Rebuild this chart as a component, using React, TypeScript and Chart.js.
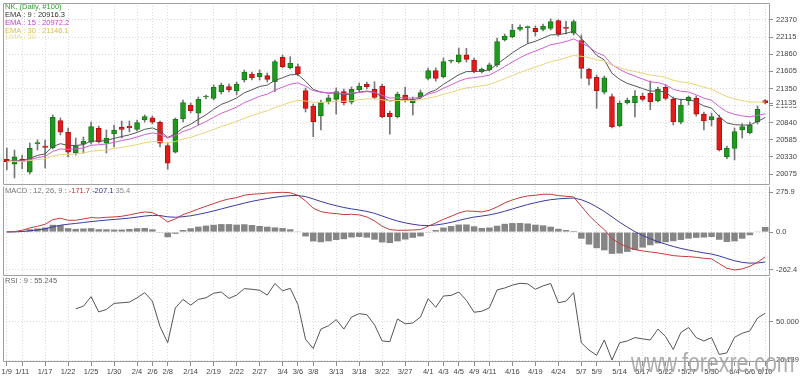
import React, { useEffect, useRef } from 'react';
import { Chart, registerables } from 'chart.js';

Chart.register(...registerables);

// ---------- data ----------
const dates = ['1/9','1/10','1/11','1/15','1/16','1/17','1/18','1/21','1/22','1/23','1/24','1/25','1/28','1/29','1/30','1/31','2/1','2/4','2/5','2/6','2/7','2/8','2/12','2/13','2/14','2/15','2/18','2/19','2/20','2/21','2/22','2/25','2/26','2/27','2/28','3/1','3/4','3/5','3/6','3/7','3/8','3/11','3/12','3/13','3/14','3/15','3/18','3/19','3/20','3/22','3/25','3/26','3/27','3/28','3/29','4/1','4/2','4/3','4/4','4/5','4/8','4/9','4/10','4/11','4/12','4/15','4/16','4/17','4/18','4/19','4/22','4/23','4/24','4/25','4/26','5/7','5/8','5/9','5/10','5/13','5/14','5/15','5/16','5/17','5/20','5/21','5/22','5/23','5/24','5/27','5/28','5/29','5/30','5/31','6/3','6/4','6/5','6/6','6/7','6/10'];

const shownDates = ['1/9','1/11','1/17','1/22','1/25','1/30','2/4','2/6','2/8','2/14','2/19','2/22','2/27','3/4','3/6','3/8','3/13','3/18','3/22','3/27','4/1','4/3','4/5','4/9','4/11','4/16','4/19','4/24','5/7','5/9','5/14','5/17','5/22','5/27','5/30','6/4','6/6','6/10'];

const opens = [20294,20220,20299,20101,20528,20493,20467,20870,20697,20393,20518,20548,20756,20533,20671,20771,20791,20741,20880,20914,20846,20497,20399,20895,21104,20980,21223,21203,21302,21376,21312,21476,21565,21525,21540,21451,21814,21659,21674,21317,21089,20940,21153,21188,21302,21144,21327,21412,21337,21387,20980,20929,21253,21138,21227,21501,21615,21525,21755,21749,21849,21774,21600,21625,21700,22072,22121,22231,22257,22246,22231,22246,22360,22251,22172,22062,21635,21516,21293,21227,20795,21138,21138,21238,21278,21168,21367,21188,20846,21168,21203,20967,20880,20914,20333,20458,20731,20691,20855,21168];
const highs = [20463,20433,20358,20537,20582,20582,20955,20910,20761,20612,20627,20850,20791,20731,20805,20865,20865,20880,20955,20940,20865,20537,20910,21178,21133,21223,21253,21402,21431,21416,21446,21625,21595,21625,21580,21774,21849,21823,21714,21357,21118,21178,21253,21357,21342,21372,21431,21446,21451,21416,21014,21297,21372,21223,21327,21655,21655,21804,21778,21953,21948,21804,21655,21729,22102,22161,22306,22296,22281,22281,22310,22385,22374,22355,22370,22147,21655,21550,21536,21267,21163,21208,21317,21282,21461,21372,21402,21223,21193,21238,21238,20999,20984,20955,20493,20761,20825,20850,21089,21185];
const lows = [20135,20016,20150,20075,20433,20165,20448,20657,20329,20358,20388,20522,20537,20388,20478,20612,20701,20716,20850,20820,20478,20145,20388,20850,20985,20806,21193,21178,21267,21297,21253,21446,21476,21476,21446,21302,21655,21640,21536,20999,20631,20731,21118,20969,21104,21118,21297,21342,21193,20910,20667,20910,21148,20954,21208,21476,21461,21506,21729,21729,21744,21580,21580,21610,21670,22057,22102,22206,22023,22132,22206,22221,22132,22161,22147,21501,21401,21054,21267,20761,20776,21118,20925,21163,21034,21148,21178,20806,20820,21104,20938,20731,20791,20418,20304,20284,20612,20671,20820,21118];
const closes = [20259,20333,20259,20458,20533,20473,20920,20697,20399,20497,20567,20780,20557,20607,20731,20741,20765,20840,20929,20846,20533,20235,20890,21138,21019,21189,21227,21367,21402,21327,21416,21595,21506,21576,21486,21749,21674,21725,21565,21054,20855,21138,21212,21302,21138,21337,21387,21376,21218,20929,20929,21267,21178,21188,21287,21615,21501,21749,21759,21849,21784,21600,21635,21700,22047,22132,22221,22261,22261,22196,22281,22345,22161,22246,22345,21650,21501,21312,21510,20780,21129,21178,21238,21188,21153,21342,21203,20855,21104,21218,20967,20865,20929,20433,20458,20706,20780,20806,21040,21135];

const ema9 = [20259,20274,20271,20308,20352,20376,20485,20527,20501,20500,20513,20567,20566,20574,20606,20633,20659,20695,20741,20762,20716,20619,20673,20765,20816,20890,20958,21039,21112,21156,21208,21285,21330,21379,21400,21470,21510,21554,21557,21457,21336,21296,21279,21284,21254,21270,21294,21311,21293,21220,21162,21183,21181,21183,21203,21285,21328,21412,21482,21555,21601,21601,21609,21627,21710,21795,21880,21956,22017,22053,22099,22148,22151,22170,22205,22094,21975,21843,21776,21576,21486,21425,21388,21348,21309,21315,21293,21205,21184,21191,21147,21090,21057,20932,20837,20810,20804,20806,20858,20916.3];
const ema15 = [20259,20268,20266,20290,20320,20339,20412,20448,20442,20449,20464,20503,20511,20522,20548,20572,20595,20627,20664,20686,20667,20613,20648,20709,20747,20803,20856,20920,20980,21023,21072,21138,21184,21233,21264,21325,21369,21413,21433,21385,21318,21296,21285,21287,21269,21278,21291,21302,21291,21247,21206,21214,21209,21206,21217,21266,21296,21352,21403,21458,21498,21512,21527,21548,21610,21676,21744,21808,21865,21907,21953,22002,22021,22050,22087,22032,21966,21884,21838,21705,21634,21577,21534,21491,21449,21436,21406,21337,21308,21297,21255,21206,21172,21080,21002,20965,20941,20928,20948,20972.2];
const ema30 = [20259,20263,20263,20275,20291,20303,20344,20366,20367,20376,20388,20414,20423,20434,20454,20472,20491,20513,20540,20560,20558,20537,20560,20597,20624,20659,20697,20740,20783,20819,20858,20905,20944,20984,21017,21065,21104,21144,21171,21163,21144,21144,21148,21159,21157,21169,21183,21194,21196,21180,21163,21171,21171,21172,21180,21208,21227,21261,21293,21328,21358,21373,21390,21409,21451,21494,21542,21588,21631,21667,21707,21749,21776,21807,21841,21829,21808,21776,21759,21697,21659,21628,21603,21576,21549,21536,21515,21472,21448,21433,21403,21369,21340,21282,21229,21194,21168,21150,21147,21146.1];

const macd = [1.2,3.5,12.7,28.9,40.4,54.3,86.6,95.9,82.0,82.0,91.2,100.5,98.2,102.8,105.1,109.7,119.0,130.5,139.8,135.1,109.7,70.5,91.2,121.3,139.8,160.5,179.0,197.5,216.0,229.8,239.1,255.3,262.2,265.7,270.3,273.6,275.9,272.6,255.3,216.0,165.2,142.1,132.8,128.2,121.3,123.6,119.0,105.1,77.4,40.4,17.3,12.7,12.7,15.0,17.3,40.4,63.5,88.9,109.7,132.8,146.7,144.4,139.8,151.3,174.4,202.1,222.9,239.1,250.6,255.3,262.2,262.2,253.0,248.3,243.7,179.0,116.7,63.5,17.3,-45.0,-79.7,-102.8,-121.3,-130.5,-137.4,-144.4,-153.6,-162.8,-167.5,-169.8,-174.4,-181.4,-186.0,-218.3,-250.7,-262.4,-255.3,-236.8,-209.1,-171.7];
const signal = [1.2,1.6,3.9,9.0,15.2,23.1,35.8,47.8,54.7,60.1,66.3,73.2,78.1,83.2,87.5,91.9,97.3,104.0,111.1,116.0,114.8,105.8,103.0,106.7,113.2,122.7,134.0,146.7,160.5,174.4,187.3,201.0,213.2,223.5,232.8,241.2,248.1,252.9,253.4,246.0,229.9,212.3,196.4,182.7,170.5,161.0,152.7,143.2,130.1,112.0,93.1,76.9,64.0,54.3,46.9,45.5,49.2,57.1,67.7,80.6,93.8,104.0,111.1,119.2,130.3,144.6,160.3,176.0,191.0,203.9,215.5,224.7,230.3,234.0,235.8,224.5,203.0,175.1,143.5,105.8,68.6,34.4,3.2,-23.1,-46.4,-66.1,-83.6,-99.6,-113.2,-124.5,-134.4,-143.9,-152.2,-165.3,-182.5,-198.2,-209.7,-215.1,-213.9,-207.1];
const histogram = [0,1.9,8.8,19.9,25.2,31.2,50.8,48.1,27.3,21.9,24.9,27.3,20.1,19.6,17.6,17.8,21.7,26.5,28.7,19.1,-5.1,-35.3,-11.8,14.6,26.6,37.8,45.0,50.8,55.5,55.4,51.8,54.3,49.0,42.2,37.5,32.4,27.8,19.7,1.9,-30.0,-64.7,-70.2,-63.6,-54.5,-49.2,-37.4,-33.7,-38.1,-52.7,-71.6,-75.8,-64.2,-51.3,-39.3,-29.6,-5.1,14.3,31.8,42.0,52.2,52.9,40.4,28.7,32.1,44.1,57.5,62.6,63.1,59.6,51.4,46.7,37.5,22.7,14.3,7.9,-45.5,-86.3,-111.6,-126.2,-150.8,-148.3,-137.2,-124.5,-107.4,-91.0,-78.3,-70.0,-63.2,-54.3,-45.3,-40.0,-37.5,-33.8,-53.0,-68.2,-64.2,-45.6,-21.7,4.8,35.4];

const rsi = [null,null,null,null,null,null,null,null,null,58.0,59.7,65.6,56.1,57.6,61.4,61.8,62.2,64.9,68.1,62.8,47.0,36.9,58.6,63.9,60.3,63.9,64.9,67.7,68.5,64.5,66.6,70.6,70.2,69.6,66.6,73.8,69.2,70.8,60.7,39.0,33.3,45.4,47.5,51.3,45.4,52.9,55.0,54.4,48.1,38.0,37.6,51.7,48.7,49.2,52.9,64.3,59.0,66.0,66.4,68.5,63.3,55.9,56.5,58.6,69.8,71.0,72.8,73.9,73.6,70.2,72.3,73.8,61.8,62.8,68.1,36.9,32.3,29.1,38.6,26.139,36.9,38.0,40.1,39.3,38.6,45.4,40.7,32.7,43.3,46.4,40.1,38.0,40.1,29.6,30.6,40.3,42.8,44.3,52.3,55.245];

const priceTicks = [20075, 20330, 20585, 20840, 21095, 21350, 21605, 21860, 22115, 22370];
const macdTicks = [275.9, 0, -262.4];
const rsiTicks = [50, 26.139];

// ---------- styling ----------
const FONT = '"Liberation Sans", Arial, sans-serif';
const FS = 7.5;
const AXIS_W = 31;
const GRID = '#d9d9d9';
const TICK = '#8c8c8c';
const FRAME = '#a0a0a0';
const TEXT = '#444444';
const GREEN = '#1f9a1f';
const GREEN_B = '#177a17';
const RED = '#e31a1a';
const RED_B = '#b81010';

const shownSet = new Set(shownDates);
const isShown = (i: number) => shownSet.has(dates[i]);

function xAxis(withLabels: boolean): any {
  return {
    type: 'category',
    offset: true,
    grid: {
      offset: false,
      drawTicks: withLabels,
      tickLength: 4,
      color: (c: any) => (isShown(c.index) ? GRID : 'rgba(0,0,0,0)'),
      tickColor: (c: any) => (isShown(c.index) ? TICK : 'rgba(0,0,0,0)'),
      tickBorderDash: [],
    },
    border: { display: false, dash: [1, 2] },
    ticks: {
      display: withLabels,
      autoSkip: false,
      maxRotation: 0,
      minRotation: 0,
      padding: 1,
      color: TEXT,
      font: { family: FONT, size: FS },
      callback: (_v: any, i: number) => (isShown(i) ? dates[i] : ''),
    },
    afterFit: (s: any) => {
      s.paddingLeft = 0;
      s.paddingRight = 0;
      if (withLabels) s.height = 16;
    },
  };
}

function yAxis(min: number, max: number, tickVals: number[], fmt: (v: number) => string): any {
  return {
    position: 'right',
    min,
    max,
    afterBuildTicks: (s: any) => {
      s.ticks = tickVals.map((v) => ({ value: v }));
    },
    afterFit: (s: any) => {
      s.width = AXIS_W;
      s.paddingTop = 0;
      s.paddingBottom = 0;
    },
    grid: { color: GRID, tickColor: TICK, tickLength: 4, drawTicks: true, tickBorderDash: [] },
    border: { display: false, dash: [1, 2] },
    ticks: {
      padding: 3,
      color: TEXT,
      font: { family: FONT, size: FS },
      callback: (v: any) => fmt(Number(v)),
    },
  };
}

function framePlugin(drawTop: boolean) {
  return {
    id: 'frame' + (drawTop ? 'T' : ''),
    afterDraw(chart: any) {
      const { ctx, chartArea } = chart;
      const l = Math.floor(chartArea.left) + 0.5;
      const r = Math.floor(chartArea.right) + 0.5;
      const t = Math.floor(chartArea.top) + 0.5;
      const b = Math.floor(chartArea.bottom) - 0.5;
      ctx.save();
      ctx.strokeStyle = FRAME;
      ctx.lineWidth = 1;
      ctx.beginPath();
      if (drawTop) {
        ctx.moveTo(l, t);
        ctx.lineTo(r, t);
      }
      ctx.moveTo(l, t);
      ctx.lineTo(l, b);
      ctx.lineTo(r, b);
      ctx.moveTo(r, t);
      ctx.lineTo(r, b);
      ctx.stroke();
      ctx.restore();
    },
  };
}

function drawSegments(ctx: any, x: number, y: number, segs: [string, string][]) {
  let cx = x;
  segs.forEach(([t, c]) => {
    ctx.fillStyle = c;
    ctx.fillText(t, cx, y);
    cx += ctx.measureText(t).width;
  });
}

const last = (a: any[]) => a[a.length - 1];

const priceTextPlugin = {
  id: 'priceText',
  afterDraw(chart: any) {
    const { ctx, chartArea, scales } = chart;
    ctx.save();
    ctx.font = `${FS}px ${FONT}`;
    ctx.textBaseline = 'middle';
    const lines: [string, string, number][] = [
      ['NK, (Daily, #100)', '#2f9f2f', 7],
      [`EMA : 9 : ${last(ema9).toFixed(1)}`, '#333333', 15],
      [`EMA : 15 : ${last(ema15).toFixed(1)}`, '#c33cc3', 23],
      [`EMA : 30 : ${last(ema30).toFixed(1)}`, '#d9c04a', 31],
      ['EMA : 30', '#eee0a6', 36.5],
    ];
    lines.forEach(([t, c, y]) => {
      ctx.fillStyle = c;
      ctx.fillText(t, 5, y);
    });
    // last price marker on the axis
    const lc = last(closes);
    const y = scales.y.getPixelForValue(lc);
    const x0 = chartArea.right;
    ctx.fillStyle = '#ffffff';
    ctx.fillRect(x0 + 5, y - 4, 26, 7.5);
    ctx.strokeStyle = TICK;
    ctx.beginPath();
    ctx.moveTo(x0, Math.round(y) + 0.5);
    ctx.lineTo(x0 + 4, Math.round(y) + 0.5);
    ctx.stroke();
    ctx.fillStyle = TEXT;
    ctx.fillText(String(lc), x0 + 7, y);
    ctx.restore();
  },
};

const macdTextPlugin = {
  id: 'macdText',
  afterDraw(chart: any) {
    const { ctx } = chart;
    ctx.save();
    ctx.font = `${FS}px ${FONT}`;
    ctx.textBaseline = 'middle';
    drawSegments(ctx, 5, 5.5, [
      ['MACD : 12, 26, 9 : ', '#777777'],
      [last(macd).toFixed(1), '#cc3333'],
      [' ', '#777777'],
      [last(signal).toFixed(1), '#33339a'],
      [' ' + last(histogram).toFixed(1), '#888888'],
    ]);
    ctx.restore();
  },
};

const rsiTextPlugin = {
  id: 'rsiText',
  afterDraw(chart: any) {
    const { ctx } = chart;
    ctx.save();
    ctx.font = `${FS}px ${FONT}`;
    ctx.textBaseline = 'middle';
    ctx.fillStyle = '#666666';
    ctx.fillText(`RSI : 9 : ${last(rsi).toFixed(3)}`, 5, 4.5);
    ctx.restore();
  },
};

const common: any = {
  responsive: false,
  animation: false,
  devicePixelRatio: 1,
  events: [],
  plugins: { legend: { display: false }, tooltip: { enabled: false } },
};

export default function App() {
  const priceRef = useRef<HTMLCanvasElement>(null);
  const macdRef = useRef<HTMLCanvasElement>(null);
  const rsiRef = useRef<HTMLCanvasElement>(null);

  useEffect(() => {
    const charts: Chart[] = [];
    const up = (i: number) => closes[i] >= opens[i];

    charts.push(
      new Chart(priceRef.current as HTMLCanvasElement, {
        type: 'bar',
        data: {
          labels: dates,
          datasets: [
            { type: 'line', data: ema30, borderColor: '#e8d478', borderWidth: 1, pointRadius: 0, tension: 0, order: 1 } as any,
            { type: 'line', data: ema15, borderColor: '#cf60cf', borderWidth: 1, pointRadius: 0, tension: 0, order: 1 } as any,
            { type: 'line', data: ema9, borderColor: '#555555', borderWidth: 1, pointRadius: 0, tension: 0, order: 1 } as any,
            {
              type: 'bar',
              data: lows.map((l, i) => [l, highs[i]]),
              backgroundColor: '#777777',
              barThickness: 1,
              grouped: false,
              order: 3,
            } as any,
            {
              type: 'bar',
              data: opens.map((o, i) => [o, closes[i]]),
              backgroundColor: (c: any) => (up(c.dataIndex) ? GREEN : RED),
              borderColor: (c: any) => (up(c.dataIndex) ? GREEN_B : RED_B),
              borderWidth: 1,
              borderSkipped: false,
              barThickness: 5,
              minBarLength: 1,
              grouped: false,
              order: 2,
            } as any,
          ],
        },
        options: {
          ...common,
          layout: { padding: { left: 3, top: 3, right: 0, bottom: 1 }, autoPadding: false },
          scales: {
            x: xAxis(false),
            y: yAxis(19911.5, 22623, priceTicks, (v) => String(Math.round(v))),
          },
        },
        plugins: [framePlugin(true), priceTextPlugin],
      } as any)
    );

    charts.push(
      new Chart(macdRef.current as HTMLCanvasElement, {
        type: 'bar',
        data: {
          labels: dates,
          datasets: [
            { type: 'line', data: macd, borderColor: '#c83a3a', borderWidth: 1, pointRadius: 0, tension: 0, order: 1 } as any,
            { type: 'line', data: signal, borderColor: '#3a3aa0', borderWidth: 1, pointRadius: 0, tension: 0, order: 1 } as any,
            {
              type: 'bar',
              data: histogram,
              backgroundColor: '#858585',
              categoryPercentage: 1,
              barPercentage: 0.85,
              order: 2,
            } as any,
          ],
        },
        options: {
          ...common,
          layout: { padding: { left: 3, top: 1, right: 0, bottom: 1 }, autoPadding: false },
          scales: {
            x: xAxis(false),
            y: yAxis(-304.2, 319.5, macdTicks, (v) => v.toFixed(1)),
          },
        },
        plugins: [framePlugin(false), macdTextPlugin],
      } as any)
    );

    charts.push(
      new Chart(rsiRef.current as HTMLCanvasElement, {
        type: 'line',
        data: {
          labels: dates,
          datasets: [
            { data: rsi, borderColor: '#555555', borderWidth: 1, pointRadius: 0, tension: 0, spanGaps: false } as any,
          ],
        },
        options: {
          ...common,
          layout: { padding: { left: 3, top: 1, right: 0, bottom: 0 }, autoPadding: false },
          scales: {
            x: xAxis(true),
            y: yAxis(24.9, 77.85, rsiTicks, (v) => v.toFixed(3)),
          },
        },
        plugins: [framePlugin(false), rsiTextPlugin],
      } as any)
    );

    return () => charts.forEach((c) => c.destroy());
  }, []);

  return (
    <div style={{ position: 'fixed', left: 0, top: 0, width: 800, height: 378, background: '#ffffff', overflow: 'hidden' }}>
      <canvas ref={priceRef} width={800} height={186} style={{ position: 'absolute', left: 0, top: 0 }} />
      <canvas ref={macdRef} width={800} height={92} style={{ position: 'absolute', left: 0, top: 185 }} />
      <canvas ref={rsiRef} width={800} height={102} style={{ position: 'absolute', left: 0, top: 276 }} />
      <div
        style={{
          position: 'absolute',
          left: 631,
          top: 350,
          font: `27px ${FONT}`,
          lineHeight: '27px',
          color: 'rgba(160,160,160,0.85)',
          transform: 'scaleX(0.79)',
          transformOrigin: 'left top',
          pointerEvents: 'none',
          whiteSpace: 'nowrap',
        }}
      >
        www.forexre.com
      </div>
    </div>
  );
}
